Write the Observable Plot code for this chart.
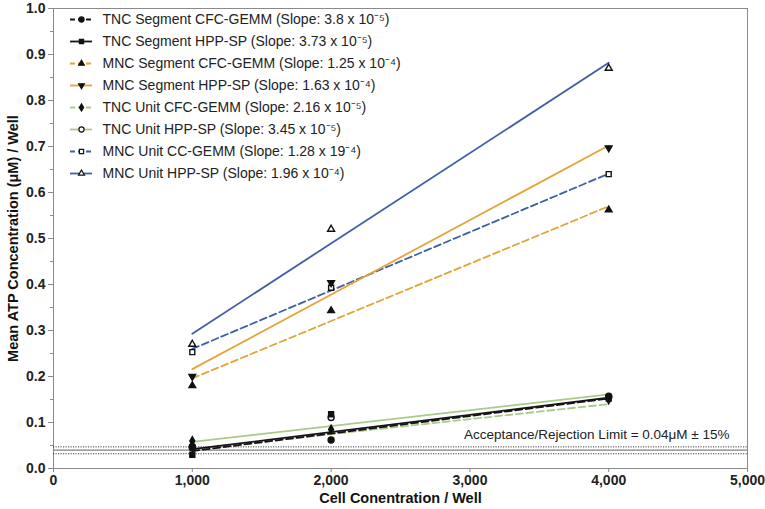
<!DOCTYPE html>
<html><head><meta charset="utf-8">
<script src="https://cdn.jsdelivr.net/npm/d3@7"></script>
<script src="https://cdn.jsdelivr.net/npm/@observablehq/plot@0.6"></script>
<style>
body{margin:0;background:#fff;font-family:"Liberation Sans",Arial,sans-serif;}
#wrap{position:relative;width:765px;height:509px;}
#legend{position:absolute;left:60px;top:0px;}
svg{overflow:visible}
</style></head><body>
<div id="wrap"><div id="chart"></div><div id="legend"></div></div>
<script>
// ---- data ----
const cells = [1000, 2000, 4000];
const fitCells = [1000, 4000];
const seriesNames = [
  "TNC Segment CFC-GEMM",
  "TNC Segment HPP-SP",
  "MNC Segment CFC-GEMM",
  "MNC Segment HPP-SP",
  "TNC Unit CFC-GEMM",
  "TNC Unit HPP-SP",
  "MNC Unit CC-GEMM",
  "MNC Unit HPP-SP"
];
const slopeTexts = ["3.8 x 10⁻⁵", "3.73 x 10⁻⁵", "1.25 x 10⁻⁴", "1.63 x 10⁻⁴",
                    "2.16 x 10⁻⁵", "3.45 x 10⁻⁵", "1.28 x 19⁻⁴", "1.96 x 10⁻⁴"];
const seriesColors = ["#141414", "#141414", "#e6a33a", "#e6a33a", "#a9cb88", "#a9cb88", "#3f5fa6", "#3f5fa6"];
const seriesDashed = [true, false, true, false, true, false, true, false];
const seriesSymbols = ["circle", "square", "triangle", "triangle", "diamond", "circle", "square", "triangle"];
const seriesFilled = [true, true, true, true, true, false, false, false];
const seriesRotate = [0, 0, 0, 180, 0, 0, 0, 0];
const seriesSize = [3, 2.8, 2.5, 2.5, 2.6, 3, 2.8, 2.6];

// measured means per cell count
const tncSegCFC  = [0.048, 0.062, 0.155];
const tncSegHPP  = [0.030, 0.118, 0.152];
const mncSegCFC  = [0.180, 0.343, 0.562];
const mncSegHPP  = [0.200, 0.404, 0.697];
const tncUnitCFC = [0.060, 0.085, 0.150];
const tncUnitHPP = [0.045, 0.111, 0.157];
const mncUnitCC  = [0.253, 0.393, 0.640];
const mncUnitHPP = [0.270, 0.520, 0.870];
const seriesValues = [tncSegCFC, tncSegHPP, mncSegCFC, mncSegHPP, tncUnitCFC, tncUnitHPP, mncUnitCC, mncUnitHPP];

// regression line values at 1,000 and 4,000 cells
const fitStart = [0.038, 0.042, 0.196, 0.216, 0.042, 0.058, 0.260, 0.293];
const fitEnd   = [0.152, 0.154, 0.570, 0.702, 0.140, 0.161, 0.641, 0.882];

const limitValue = 0.04;
const limitBand = [0.032, 0.047];
const limitLabel = "Acceptance/Rejection Limit = 0.04μM ± 15%";

const xTicks = [0, 1000, 2000, 3000, 4000, 5000];
const yTicks = [0, 0.1, 0.2, 0.3, 0.4, 0.5, 0.6, 0.7, 0.8, 0.9, 1.0];
const yMinorTicks = [0.05, 0.15, 0.25, 0.35, 0.45, 0.55, 0.65, 0.75, 0.85, 0.95];
const xLabel = "Cell Conentration / Well";
const yLabel = "Mean ATP Concentration (μM) / Well";

// ---- tables ----
const points = seriesNames.flatMap((s, i) => cells.map((c, j) => ({series: s, i, x: c, y: seriesValues[i][j]})));
const fits = seriesNames.flatMap((s, i) => fitCells.map((c, j) => ({series: s, i, x: c, y: j ? fitEnd[i] : fitStart[i]})));
const drawOrder = [6, 7, 2, 3, 4, 5, 0, 1];

const font = "Liberation Sans, Arial, sans-serif";

const chart = Plot.plot({
  width: 765, height: 509,
  marginLeft: 53, marginRight: 18, marginTop: 8, marginBottom: 41,
  style: {fontFamily: font, background: "white"},
  x: {domain: [0, 5000]},
  y: {domain: [0, 1]},
  marks: [
    Plot.frame({stroke: "#8a8a8a", strokeWidth: 1}),
    Plot.ruleY(limitBand, {stroke: "#222", strokeWidth: 0.9, strokeDasharray: "1.2,1.3"}),
    Plot.ruleY([limitValue], {stroke: "#808080", strokeWidth: 1.4}),
    Plot.text([limitLabel], {x: 5000, y: limitBand[1], text: d => d, textAnchor: "end", dx: -18, dy: -12, fontSize: 13.5, fill: "#222"}),
    ...drawOrder.map(i => Plot.line(fits.filter(d => d.i === i), {
      x: "x", y: "y", stroke: seriesColors[i], strokeWidth: 1.8,
      strokeDasharray: seriesDashed[i] ? "7,3.5" : null
    })),
    ...drawOrder.map(i => Plot.dot(points.filter(d => d.i === i), {
      x: "x", y: "y", symbol: seriesSymbols[i], r: seriesSize[i],
      rotate: seriesRotate[i],
      fill: seriesFilled[i] ? "#111" : "white", stroke: "#111", strokeWidth: 1.4
    })),
    Plot.axisY(yMinorTicks, {tickSize: 3, tickFormat: () => "", stroke: "#8a8a8a", label: null}),
    Plot.axisY(yTicks, {tickSize: 5, tickPadding: 3, tickFormat: d => d.toFixed(1), stroke: "#8a8a8a", fill: "#222",
      fontSize: 14, fontWeight: "bold", label: null}),
    Plot.axisX(xTicks, {tickSize: 4, tickPadding: 3, tickFormat: d3.format(","), stroke: "#8a8a8a", fill: "#222",
      fontSize: 14, fontWeight: "bold", label: null}),
    Plot.text([xLabel], {frameAnchor: "bottom", lineAnchor: "middle", dy: 30, text: d => d, fontSize: 14.5, fontWeight: "bold", fill: "#111"}),
    Plot.text([yLabel], {frameAnchor: "left", textAnchor: "middle", lineAnchor: "middle", rotate: -90, dx: -40, text: d => d,
      fontSize: 14.5, fontWeight: "bold", fill: "#111"})
  ]
});
document.getElementById("chart").appendChild(chart);

// ---- legend (overlay inside the plot area) ----
const legendRows = seriesNames.map((s, i) => ({series: s, i, label: `${s} (Slope: ${slopeTexts[i]})`}));
const legend = Plot.plot({
  width: 340, height: 190,
  margin: 0,
  style: {fontFamily: font, background: "transparent"},
  x: {domain: [0, 1], range: [10, 32]},
  y: {type: "point", domain: seriesNames, range: [18, 173], padding: 0},
  axis: null,
  marks: [
    ...legendRows.map(r => Plot.ruleY([r], {y: "series", x1: 0, x2: 1, stroke: seriesColors[r.i], strokeWidth: 1.8,
      strokeDasharray: seriesDashed[r.i] ? "5,3" : null})),
    ...legendRows.map(r => Plot.dot([r], {x: 0.5, y: "series", symbol: seriesSymbols[r.i], r: seriesSize[r.i] * 0.85, rotate: seriesRotate[r.i],
      fill: seriesFilled[r.i] ? "#111" : "white", stroke: "#111", strokeWidth: 1.2})),
    Plot.text(legendRows, {x: 1, y: "series", text: "label", textAnchor: "start", dx: 10, fontSize: 14, fill: "#222"})
  ]
});
document.getElementById("legend").appendChild(legend);
</script>
</body></html>
